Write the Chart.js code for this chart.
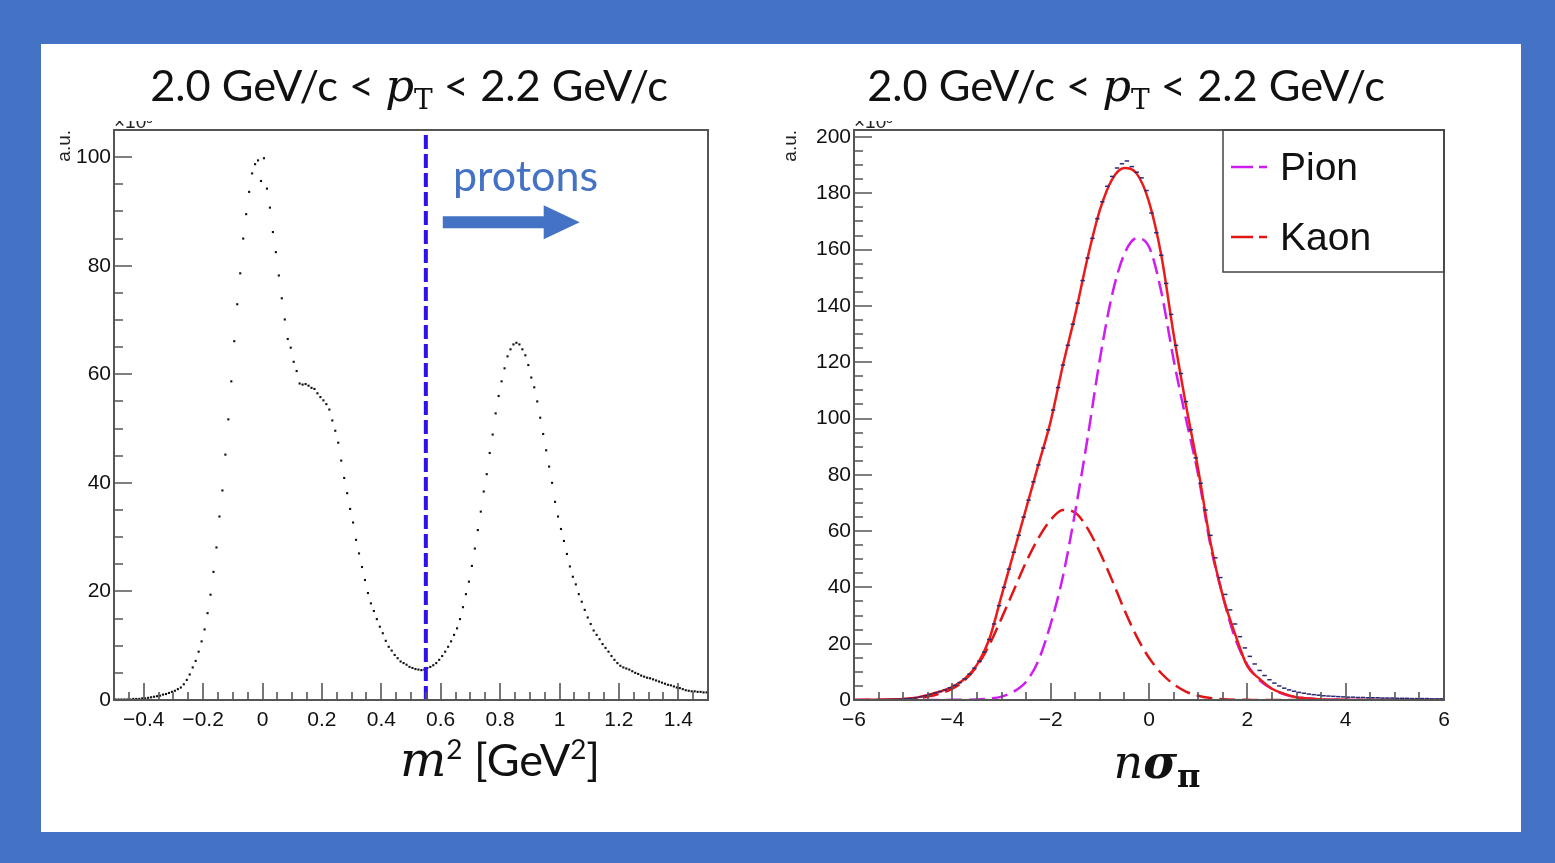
<!DOCTYPE html>
<html>
<head>
<meta charset="utf-8">
<script src="https://cdn.jsdelivr.net/npm/chart.js@4.4.1/dist/chart.umd.min.js"></script>
<style>
  html, body { margin: 0; padding: 0; }
  body { width: 1555px; height: 863px; background: #4472c4; position: relative; overflow: hidden; }
  #panel { position: absolute; left: 41px; top: 44px; width: 1480px; height: 788px; background: #fff; }
  canvas { position: absolute; }
  .txt { position: absolute; white-space: nowrap; transform: translateX(-50%); line-height: 1; color: #111; font-family: Lato, sans-serif; }
  .mi { font-family: "DejaVu Serif", serif; font-style: italic; }
  .sb { font-family: "DejaVu Serif", serif; font-size: 0.62em; vertical-align: -0.28em; line-height: 0; }
  .sp { font-size: 0.62em; vertical-align: 0.62em; line-height: 0; }
</style>
</head>
<body>
<div id="panel"></div>
<canvas id="m2Chart" width="700" height="720" style="left:40px;top:44px"></canvas>
<canvas id="nsigChart" width="720" height="720" style="left:760px;top:44px"></canvas>

<div class="txt" style="left:409px;top:63px;font-size:43.4px">2.0 GeV/c &lt; <span class="mi" style="font-size:45px">p</span><span class="sb" style="font-size:28px">T</span> &lt; 2.2 GeV/c</div>
<div class="txt" style="left:1126px;top:63px;font-size:43.4px">2.0 GeV/c &lt; <span class="mi" style="font-size:45px">p</span><span class="sb" style="font-size:28px">T</span> &lt; 2.2 GeV/c</div>
<div class="txt" style="left:500px;top:735px;font-size:45px"><span class="mi" style="font-size:49px">m</span><span class="sp">2</span> [GeV<span class="sp">2</span>]</div>
<div class="txt" style="left:1157px;top:738px;font-size:46px"><span class="mi">n</span><span class="mi" style="font-weight:bold">σ</span><span class="sb" style="font-weight:bold;font-style:normal;font-size:32px">π</span></div>

<script>
// ---- left panel: m^2 distribution (bins of 0.01 from -0.5 to 1.5) ----
const m2BinLow = -0.5;
const m2BinWidth = 0.01;
const m2Counts = [
  0.1, 0.1, 0.1, 0.1, 0.1, 0.1, 0.2, 0.2, 0.2, 0.3,
  0.3, 0.4, 0.5, 0.6, 0.7, 0.8, 1.0, 1.1, 1.3, 1.5,
  1.7, 2.0, 2.3, 2.9, 3.7, 4.7, 6.0, 7.2, 8.9, 10.8,
  13.0, 16.0, 19.4, 23.6, 28.1, 33.8, 38.6, 45.2, 51.7, 58.7,
  66.1, 72.9, 78.6, 85.0, 89.5, 93.6, 97.0, 98.7, 99.4, 95.6,
  99.8, 94.2, 90.7, 86.2, 82.5, 78.2, 74.0, 70.1, 66.5, 64.9,
  62.3, 60.6, 58.3, 58.1, 58.2, 57.9, 57.5, 57.3, 56.5, 55.8,
  55.2, 54.5, 53.5, 51.5, 49.6, 47.4, 44.1, 40.9, 38.1, 35.2,
  32.7, 29.5, 27.0, 24.5, 22.1, 19.7, 17.8, 16.4, 14.9, 13.5,
  12.3, 10.9, 9.8, 9.1, 8.3, 7.7, 7.1, 6.8, 6.5, 6.1,
  5.9, 5.7, 5.6, 5.5, 5.6, 5.9, 6.1, 6.4, 6.8, 7.4,
  8.1, 8.9, 9.8, 10.8, 12.0, 13.2, 14.9, 17.1, 19.5, 21.8,
  24.7, 27.9, 31.3, 34.7, 38.4, 41.6, 45.5, 48.9, 52.8, 56.0,
  58.7, 61.1, 63.3, 64.6, 65.5, 65.8, 65.5, 64.6, 63.5, 61.7,
  59.4, 57.6, 55.0, 52.0, 49.0, 46.0, 43.0, 40.0, 36.5, 33.8,
  31.5, 29.3, 26.9, 24.6, 22.7, 21.3, 19.5, 18.1, 16.6, 15.2,
  14.0, 12.8, 12.0, 11.2, 10.3, 9.6, 8.9, 8.1, 7.4, 6.8,
  6.3, 6.0, 5.8, 5.6, 5.3, 5.0, 4.8, 4.5, 4.3, 4.1,
  4.0, 3.8, 3.6, 3.4, 3.2, 3.0, 2.8, 2.7, 2.5, 2.3,
  2.2, 2.0, 1.8, 1.7, 1.6, 1.6, 1.5, 1.5, 1.4, 1.4
];
const m2Cut = 0.55;
const m2XTicks = [-0.4, -0.2, 0, 0.2, 0.4, 0.6, 0.8, 1, 1.2, 1.4];
const m2YTicks = [0, 20, 40, 60, 80, 100];

// ---- right panel: n sigma pion (bins of 0.1 from -6 to 6) + fit curves ----
const nsBinLow = -6;
const nsBinWidth = 0.1;
const nsCounts = [
  0, 0, 0.05, 0.05, 0.1, 0.1, 0.15, 0.2, 0.25, 0.3,
  0.4, 0.55, 0.75, 1.1, 1.5, 2.0, 2.5, 3.0, 3.6, 4.3,
  5.2, 6.2, 7.5, 9.2, 11.3, 13.8, 17.0, 21.5, 27.0, 33.5,
  40, 46.5, 52.5, 58.5, 65, 71, 77.5, 83.5, 89.5, 96,
  103, 111, 119, 126, 133.5, 141, 149, 157, 164, 171,
  177, 182.5, 186, 189, 190.5, 191.5, 189.5, 187.5, 185.5, 181,
  173, 166, 158, 148, 137, 126, 116, 106, 96, 86,
  77, 67.5, 58.5, 50.5, 43.5, 37.5, 32, 27, 22.5, 18.5,
  15.5, 12.8, 10.5, 8.7, 7.2, 6.0, 5.0, 4.2, 3.6, 3.1,
  2.7, 2.4, 2.1, 1.9, 1.7, 1.5, 1.4, 1.3, 1.2, 1.1,
  1.0, 1.0, 0.9, 0.9, 0.8, 0.8, 0.8, 0.7, 0.7, 0.7,
  0.6, 0.6, 0.6, 0.5, 0.5, 0.5, 0.5, 0.4, 0.4, 0.4
];
const fitX = [
  -6, -5.75, -5.5, -5.25, -5, -4.75, -4.5, -4.25, -4, -3.75,
  -3.5, -3.25, -3, -2.75, -2.5, -2.25, -2, -1.75, -1.5, -1.25,
  -1, -0.75, -0.5, -0.25, 0, 0.25, 0.5, 0.75, 1, 1.25,
  1.5, 1.75, 2, 2.25, 2.5, 2.75, 3, 3.25, 3.5, 3.75,
  4, 4.25, 4.5, 4.75, 5, 5.25, 5.5, 5.75, 6
];
const fitTotal = [
  0, 0.05, 0.1, 0.2, 0.35, 0.8, 1.8, 3.0, 4.7, 7.5,
  12.5, 21.5, 37, 52.5, 68, 83.5, 99, 119, 137, 157,
  174, 185, 189, 187, 177, 158, 130, 105, 82, 56,
  37, 23.5, 12, 7.5, 4, 2.2, 1, 0.5, 0.2, 0.1,
  0.05, 0, 0, 0, 0, 0, 0, 0, 0
];
const fitPion = [
  0, 0, 0, 0, 0, 0, 0, 0.02, 0.05, 0.1,
  0.2, 0.5, 1.2, 3.0, 6.5, 14, 27, 44, 67, 93,
  121, 144, 158.5, 164, 161, 145, 121, 100, 80, 55,
  37, 22, 12.5, 7, 4, 2, 1, 0.5, 0.2, 0.1,
  0.05, 0, 0, 0, 0, 0, 0, 0, 0
];
const fitKaon = [
  0, 0, 0.05, 0.1, 0.3, 0.6, 1.2, 2.3, 4.0, 7.0,
  12.0, 19.5, 29, 39, 49, 57.5, 64, 67.5, 66.5, 61,
  52.5, 42.5, 32, 22.5, 15, 9.5, 5.6, 3.0, 1.5, 0.7,
  0.3, 0.1, 0.05, 0, 0, 0, 0, 0, 0, 0,
  0, 0, 0, 0, 0, 0, 0, 0, 0
];
const nsXTicks = [-6, -4, -2, 0, 2, 4, 6];
const nsYTicks = [0, 20, 40, 60, 80, 100, 120, 140, 160, 180, 200];

const binCenters = (low, w, n) => Array.from({ length: n }, (_, i) => low + (i + 0.5) * w);
const fmt = v => (v < 0 ? '\u2212' + (-v) : String(v));
const tickFont = { family: 'Liberation Sans', size: 21 };

// ROOT-like frame, inward ticks, "a.u." and the clipped x10^3 exponent
const rootStyle = {
  id: 'rootStyle',
  afterDraw(chart, args, o) {
    const { ctx, chartArea: a, scales: { x, y } } = chart;
    ctx.save();
    ctx.strokeStyle = '#555';
    ctx.lineWidth = 1.6;
    ctx.beginPath();
    for (let n = Math.ceil(x.min / o.xMinor - 1e-6); n * o.xMinor <= x.max + 1e-6; n++) {
      const v = n * o.xMinor;
      const px = Math.round(x.getPixelForValue(v));
      const major = o.xMajor.some(t => Math.abs(t - v) < 1e-6);
      ctx.moveTo(px, a.bottom);
      ctx.lineTo(px, a.bottom - (major ? 17 : 8));
    }
    for (let n = Math.ceil(y.min / o.yMinor - 1e-6); n * o.yMinor <= y.max + 1e-6; n++) {
      const v = n * o.yMinor;
      const py = Math.round(y.getPixelForValue(v));
      const major = o.yMajor.some(t => Math.abs(t - v) < 1e-6);
      ctx.moveTo(a.left, py);
      ctx.lineTo(a.left + (major ? 18 : 9), py);
    }
    ctx.stroke();
    ctx.lineWidth = 2;
    ctx.strokeRect(a.left, a.top, a.width, a.height);

    ctx.fillStyle = '#222';
    ctx.font = '19px "Liberation Sans"';
    ctx.translate(o.auX, a.top);
    ctx.rotate(-Math.PI / 2);
    ctx.textAlign = 'right';
    ctx.textBaseline = 'middle';
    ctx.fillText('a.u.', 0, 0);
    ctx.restore();

    ctx.save();
    ctx.beginPath();
    ctx.rect(a.left - 5, a.top - 9, 80, 9);
    ctx.clip();
    ctx.fillStyle = '#222';
    ctx.font = '19px "Liberation Sans"';
    ctx.textBaseline = 'alphabetic';
    ctx.fillText('\u00d710\u00b3', a.left, a.top - 2);
    ctx.restore();
  }
};

// "protons" label with arrow, anchored to data coordinates
const protonArrow = {
  id: 'protonArrow',
  afterDatasetsDraw(chart, args, o) {
    const { ctx, scales: { x, y } } = chart;
    const x0 = x.getPixelForValue(o.from), x1 = x.getPixelForValue(o.to);
    const yc = y.getPixelForValue(o.y);
    ctx.save();
    ctx.fillStyle = '#4472c4';
    ctx.beginPath();
    ctx.moveTo(x0, yc - 6);
    ctx.lineTo(x1 - 36, yc - 6);
    ctx.lineTo(x1 - 36, yc - 17);
    ctx.lineTo(x1, yc);
    ctx.lineTo(x1 - 36, yc + 17);
    ctx.lineTo(x1 - 36, yc + 6);
    ctx.lineTo(x0, yc + 6);
    ctx.closePath();
    ctx.fill();
    ctx.font = '43px Lato';
    ctx.textBaseline = 'alphabetic';
    ctx.fillText(o.text, x.getPixelForValue(o.textX), y.getPixelForValue(o.textY));
    ctx.restore();
  }
};

// boxed legend in the top-right corner of the frame
const boxLegend = {
  id: 'boxLegend',
  afterDraw(chart, args, o) {
    const { ctx, chartArea: a } = chart;
    const left = a.right - o.width;
    ctx.save();
    ctx.strokeStyle = '#444';
    ctx.lineWidth = 1.5;
    ctx.strokeRect(left, a.top, o.width, o.height);
    const items = chart.data.datasets.filter(d => d.inLegend);
    items.forEach((d, i) => {
      const yc = a.top + 37 + i * 70;
      ctx.strokeStyle = d.borderColor;
      ctx.lineWidth = 2.5;
      ctx.setLineDash([22, 6, 8, 100]);
      ctx.beginPath();
      ctx.moveTo(left + 8, yc);
      ctx.lineTo(left + 46, yc);
      ctx.stroke();
      ctx.setLineDash([]);
      ctx.fillStyle = '#111';
      ctx.font = '39px "Liberation Sans"';
      ctx.textBaseline = 'middle';
      ctx.fillText(d.label, left + 57, yc + 2);
    });
    ctx.restore();
  }
};

const baseScale = (min, max, ticks, pad, isX) => ({
  type: 'linear', min, max,
  grid: { display: false, drawTicks: false, tickLength: 0 }, border: { display: false },
  afterBuildTicks: s => { s.ticks = ticks.map(v => ({ value: v })); },
  afterFit: s => { if (isX) s.height = 40; else s.width = 60; },
  ticks: { padding: pad, font: tickFont, color: '#111', callback: fmt, maxRotation: 0, autoSkip: false }
});

const m2YMax = 105;
const m2Centers = binCenters(m2BinLow, m2BinWidth, m2Counts.length);

new Chart(document.getElementById('m2Chart'), {
  type: 'scatter',
  data: {
    datasets: [
      {
        label: 'cut', data: [{ x: m2Cut, y: 0 }, { x: m2Cut, y: m2YMax }],
        showLine: true, borderColor: '#2d12ea', borderWidth: 4, borderDash: [14, 5], pointRadius: 0, order: 0
      },
      {
        label: 'm2', data: m2Centers.map((x, i) => ({ x, y: m2Counts[i] })),
        pointStyle: 'rect', pointRadius: 1.5, pointBackgroundColor: '#111', pointBorderWidth: 0, order: 1
      }
    ]
  },
  options: {
    responsive: false, animation: false, devicePixelRatio: 1,
    layout: { padding: { left: 14, right: 32, top: 86, bottom: 24 } },
    plugins: {
      legend: { display: false }, tooltip: { enabled: false },
      rootStyle: { xMinor: 0.05, xMajor: m2XTicks, yMinor: 5, yMajor: m2YTicks, auX: 25 },
      protonArrow: { from: 0.607, to: 1.068, y: 88, text: 'protons', textX: 0.641, textY: 93.7 }
    },
    scales: {
      x: baseScale(-0.5, 1.5, m2XTicks, 8, true),
      y: baseScale(0, m2YMax, m2YTicks, 3, false)
    }
  },
  plugins: [rootStyle, protonArrow]
});

const nsCenters = binCenters(nsBinLow, nsBinWidth, nsCounts.length);
const curve = vals => fitX.map((x, i) => ({ x, y: vals[i] }));

new Chart(document.getElementById('nsigChart'), {
  type: 'scatter',
  data: {
    datasets: [
      {
        label: 'data', data: nsCenters.map((x, i) => ({ x, y: nsCounts[i] })),
        pointStyle: 'line', pointRadius: 2.2, pointBorderWidth: 1.5, pointBorderColor: '#2a2a72', order: 0
      },
      {
        label: 'Total', data: curve(fitTotal), showLine: true, cubicInterpolationMode: 'monotone',
        borderColor: '#ec1b1b', borderWidth: 2.5, pointRadius: 0, order: 1
      },
      {
        label: 'Pion', inLegend: true, data: curve(fitPion), showLine: true, cubicInterpolationMode: 'monotone',
        borderColor: '#cf1df0', borderWidth: 2.5, borderDash: [16, 7], pointRadius: 0, order: 2
      },
      {
        label: 'Kaon', inLegend: true, data: curve(fitKaon), showLine: true, cubicInterpolationMode: 'monotone',
        borderColor: '#e01515', borderWidth: 2.5, borderDash: [16, 7], pointRadius: 0, order: 3
      }
    ]
  },
  options: {
    responsive: false, animation: false, devicePixelRatio: 1,
    layout: { padding: { left: 34, right: 36, top: 86, bottom: 24 } },
    plugins: {
      legend: { display: false }, tooltip: { enabled: false },
      rootStyle: { xMinor: 0.5, xMajor: nsXTicks, yMinor: 5, yMajor: nsYTicks, auX: 31 },
      boxLegend: { width: 221, height: 142 }
    },
    scales: {
      x: baseScale(-6, 6, nsXTicks, 8, true),
      y: baseScale(0, 202.5, nsYTicks, 3, false)
    }
  },
  plugins: [rootStyle, boxLegend]
});
</script>
</body>
</html>
